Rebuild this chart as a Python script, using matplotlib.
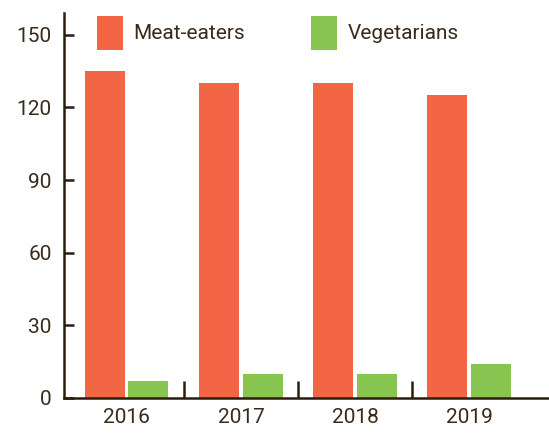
import matplotlib
matplotlib.use("Agg")
import matplotlib.pyplot as plt
import numpy as np

years = ["2016", "2017", "2018", "2019"]
meat_eaters = [135, 130, 130, 125]
vegetarians = [7, 10, 10, 14]
y_ticks = [0, 30, 60, 90, 120, 150]

RED = "#F26545"
GREEN = "#88C550"
DARK = "#2B1D0E"
TXT = "#3A2A1C"

plt.rcParams['font.family'] = ['Roboto', 'DejaVu Sans']
FS = 15

fig = plt.figure(figsize=(5.49, 4.34), dpi=100)
ax = fig.add_axes([0.1166, 0.083, 0.8834, 0.887])

x = np.arange(len(years))
w = 0.35
ax.bar(x - 0.19, meat_eaters, w, color=RED, label="Meat-eaters")
ax.bar(x + 0.19, vegetarians, w, color=GREEN, label="Vegetarians")

ax.set_xlim(-0.55, 3.70)
ax.set_ylim(0, 159)
ax.set_yticks(y_ticks)
ax.set_xticks(x)
ax.set_xticklabels(years)
ax.set_xticks([0.5, 1.5, 2.5], minor=True)

for s in ["top", "right"]:
    ax.spines[s].set_visible(False)
for s in ["left", "bottom"]:
    ax.spines[s].set_linewidth(1.8)
    ax.spines[s].set_color(DARK)

ax.tick_params(axis='y', direction='in', length=7.5, width=1.8, color=DARK,
               labelsize=FS, labelcolor=TXT, pad=9)
ax.tick_params(axis='x', which='major', length=0, labelsize=FS, labelcolor=TXT, pad=7)
ax.tick_params(axis='x', which='minor', direction='in', length=12, width=1.8, color=DARK)

leg = ax.legend(loc='upper left', bbox_to_anchor=(0.05, 1.014), ncol=2, frameon=False,
                fontsize=FS, handlelength=1.25, handleheight=2.1,
                handletextpad=0.5, columnspacing=3.2, labelcolor=TXT,
                borderaxespad=0)

fig.savefig("out.png", dpi=100)
